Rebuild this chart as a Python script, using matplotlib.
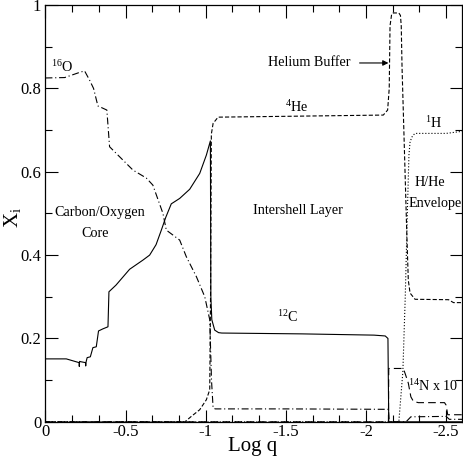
import numpy as np
import matplotlib
matplotlib.use("Agg")
import matplotlib.pyplot as plt
from matplotlib.ticker import MultipleLocator, FuncFormatter

# abundance profiles (Log q, mass fraction)
o16_x = [0, -0.12, -0.21, -0.244, -0.275, -0.30, -0.327, -0.383, -0.40, -0.4625,
         -0.546, -0.629, -0.67, -0.733, -0.754, -0.8375, -0.879, -0.942, -0.994,
         -1.025, -1.036, -1.046, -1.06, -1.5, -2.13, -2.14, -2.145, -2.25, -2.28,
         -2.5, -2.52, -2.6]
o16_y = [0.825, 0.826, 0.838, 0.842, 0.82, 0.80, 0.758, 0.748, 0.66, 0.636,
         0.604, 0.585, 0.568, 0.50, 0.46, 0.436, 0.396, 0.348, 0.30,
         0.245, 0.10, 0.033, 0.031, 0.031, 0.030, 0.030, 0.0, 0.0, 0.012,
         0.013, 0.006, 0.006]

c12_x = [0, -0.13, -0.21, -0.211, -0.213, -0.223, -0.25, -0.251, -0.253, -0.26,
         -0.28, -0.296, -0.317, -0.331, -0.358, -0.39, -0.396, -0.44, -0.525,
         -0.608, -0.65, -0.69, -0.723, -0.75, -0.785, -0.8375, -0.90, -0.9625,
         -1.004, -1.029, -1.032, -1.038, -1.056, -1.08, -1.1, -1.6, -2.05, -2.12,
         -2.137, -2.142, -2.6]
c12_y = [0.151, 0.151, 0.142, 0.133, 0.145, 0.144, 0.142, 0.134, 0.143, 0.154,
         0.156, 0.178, 0.18, 0.218, 0.223, 0.228, 0.312, 0.328, 0.366,
         0.388, 0.40, 0.425, 0.46, 0.49, 0.523, 0.536, 0.558, 0.596,
         0.64, 0.674, 0.30, 0.245, 0.22, 0.214, 0.213, 0.211, 0.208, 0.206,
         0.200, 0.0, 0.0]

he4_x = [0, -0.87, -0.91, -0.9625, -1.004, -1.025, -1.03, -1.035, -1.046, -1.077,
         -1.5, -2.108, -2.135, -2.145, -2.15, -2.16, -2.17, -2.205, -2.215, -2.22,
         -2.225, -2.238, -2.254, -2.264, -2.275, -2.306, -2.515, -2.546, -2.6]
he4_y = [0, 0, 0.013, 0.029, 0.053, 0.077, 0.3, 0.69, 0.716, 0.731,
         0.733, 0.736, 0.748, 0.8, 0.95, 0.978, 0.981, 0.981, 0.975, 0.95,
         0.85, 0.676, 0.46, 0.34, 0.309, 0.294, 0.293, 0.286, 0.286]

n14_x = [0, -2.14, -2.142, -2.233, -2.245, -2.264, -2.28, -2.296, -2.327, -2.49,
         -2.5, -2.51, -2.6]
n14_y = [0, 0, 0.128, 0.128, 0.115, 0.093, 0.06, 0.049, 0.046, 0.046,
         0.04, 0.017, 0.017]

h1_x = [0, -2.205, -2.23, -2.245, -2.258, -2.268, -2.275, -2.29, -2.306, -2.5, -2.6]
h1_y = [0, 0, 0.12, 0.3, 0.5, 0.64, 0.672, 0.686, 0.692, 0.692, 0.697]

plt.rcParams['font.family'] = ['Liberation Serif', 'DejaVu Serif']
plt.rcParams['mathtext.fontset'] = 'custom'
plt.rcParams['mathtext.rm'] = 'Liberation Serif'
plt.rcParams['mathtext.it'] = 'Liberation Serif:italic'
plt.rcParams['axes.unicode_minus'] = False
plt.rcParams['lines.scale_dashes'] = False

fig = plt.figure(figsize=(4.64, 4.58), dpi=100)
ax = fig.add_axes([0.098, 0.079, 0.898, 0.910])

lw = 0.8
ax.plot(c12_x, c12_y, color='black', lw=lw)
ax.plot(o16_x, o16_y, color='black', lw=lw, dashes=(5, 2, 0.8, 2))
ax.plot(he4_x, he4_y, color='black', lw=lw, dashes=(3, 1.5))
ax.plot(n14_x, n14_y, color='black', lw=lw, dashes=(5.5, 3))
ax.plot(h1_x, h1_y, color='black', lw=lw, dashes=(0.8, 1.4))

ax.set_xlim(0, -2.6)
ax.set_ylim(0, 1)

ax.xaxis.set_major_locator(MultipleLocator(0.5))
ax.xaxis.set_minor_locator(MultipleLocator(0.5 / 3))
ax.yaxis.set_major_locator(MultipleLocator(0.2))
ax.yaxis.set_minor_locator(MultipleLocator(0.1))
fmt = FuncFormatter(lambda v, p: '%g' % round(v, 3))
ax.xaxis.set_major_formatter(fmt)
ax.yaxis.set_major_formatter(fmt)
ax.tick_params(which='both', direction='in', top=True, right=True,
               labelsize=12, width=0.8, pad=3)
ax.tick_params(axis='x', pad=1.5)
ax.tick_params(which='major', length=9)
ax.tick_params(which='minor', length=5)
for s in ax.spines.values():
    s.set_linewidth(0.9)

ax.set_xlabel('Log q', fontsize=15)
ax.xaxis.set_label_coords(0.497, -0.036)
ax.set_ylabel(r'X$_\mathrm{i}$', fontsize=15)
ax.yaxis.set_label_coords(-0.054, 0.49)

fs = 10.2
ax.text(-0.103, 0.852, r'$^{16}$O', fontsize=fs, ha='center', va='center')
ax.text(-1.57, 0.755, r'$^{4}$He', fontsize=fs, ha='center', va='center')
ax.text(-1.51, 0.251, r'$^{12}$C', fontsize=fs, ha='center', va='center')
ax.text(-2.42, 0.716, r'$^{1}$H', fontsize=fs, ha='center', va='center')
ax.text(-2.42, 0.086, r'$^{14}$N x 10', fontsize=fs, ha='center', va='center')
ax.text(-0.34, 0.503, 'Carbon/Oxygen', fontsize=fs, ha='center', va='center')
ax.text(-0.31, 0.452, 'Core', fontsize=fs, ha='center', va='center')
ax.text(-1.577, 0.508, 'Intershell Layer', fontsize=fs, ha='center', va='center')
ax.text(-2.40, 0.574, 'H/He', fontsize=fs, ha='center', va='center')
ax.text(-2.43, 0.523, 'Envelope', fontsize=fs, ha='center', va='center')
ax.text(-1.648, 0.861, 'Helium Buffer', fontsize=fs, ha='center', va='center')
ax.annotate('', xy=(-2.14, 0.861), xytext=(-1.96, 0.861),
            arrowprops=dict(arrowstyle='-|>', lw=0.8, color='black',
                            mutation_scale=8, shrinkA=0, shrinkB=0))

fig.savefig('out.png', dpi=100)
